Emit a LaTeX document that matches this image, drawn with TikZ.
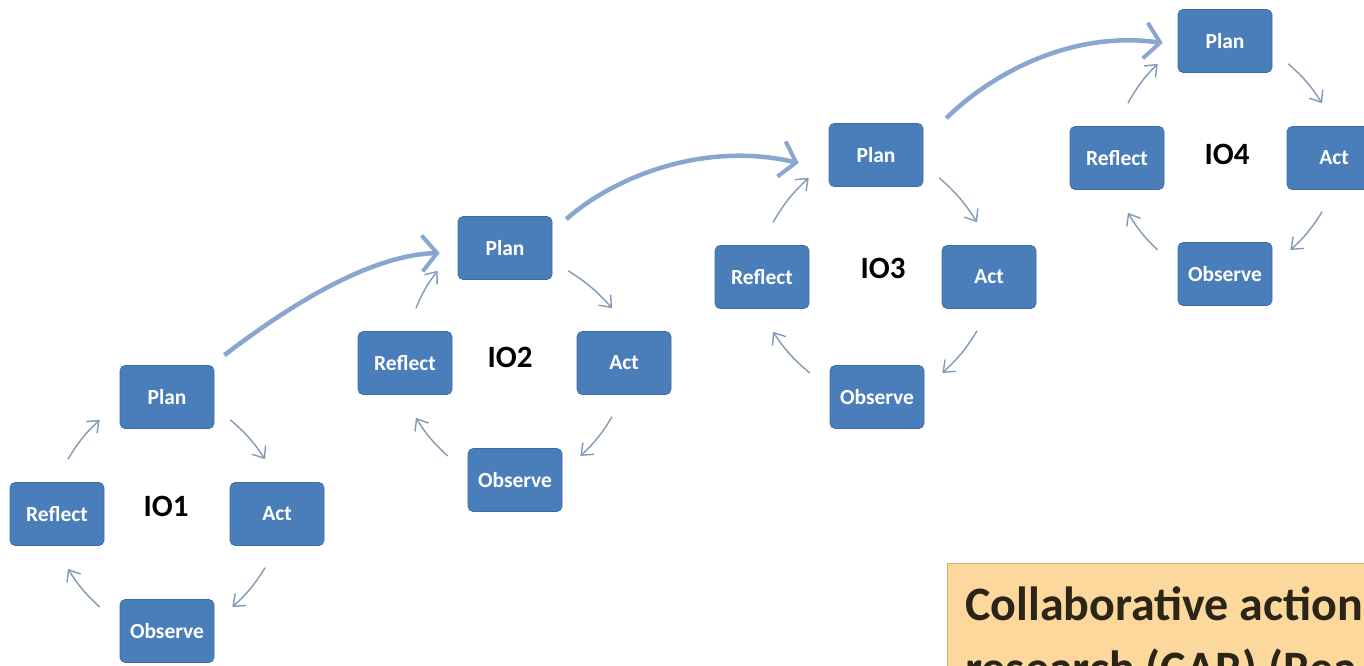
\documentclass[tikz,border=0pt]{standalone}
\usepackage{fontspec}
\setmainfont{Carlito}
\usetikzlibrary{arrows.meta,calc}
\definecolor{boxblue}{HTML}{4A7EBB}
\definecolor{smallarr}{HTML}{8299B8}
\definecolor{bigarr}{HTML}{89A6D0}
\definecolor{carfill}{HTML}{FCD89C}
\definecolor{carline}{HTML}{D9AE6E}
\definecolor{cartext}{HTML}{2B2518}
\begin{document}
\begin{tikzpicture}[x=1pt,y=-1pt,
  stagebox/.style={rectangle, rounded corners=5pt, fill=boxblue, draw=boxblue!85!black, line width=0.6pt,
    minimum width=94pt, minimum height=63pt, text=white, font=\fontsize{21.5}{24}\selectfont\bfseries, inner sep=0pt},
  iolabel/.style={font=\fontsize{31}{34}\selectfont\bfseries, text=black, inner sep=0pt},
  cyclearrow/.style={draw=smallarr, line width=1.4pt, -{Straight Barb[length=10pt,width=16pt,line width=1.4pt]}},
  bigarrow/.style={draw=bigarr, line width=4.5pt, -{Straight Barb[length=15pt,width=36pt,line width=4pt]}},
  cartxt/.style={anchor=base west, font=\fontsize{48}{52}\selectfont\bfseries, text=cartext, inner sep=0pt}
]
\useasboundingbox (0,0) rectangle (1364,665);
\fill[white] (0,0) rectangle (1364,665);
\clip (0,0) rectangle (1364,665);

% cycle 1
\node[stagebox] (p1) at (167,397) {Plan};
\node[stagebox] (r1) at (57,514) {Reflect};
\node[stagebox] (a1) at (277,514) {Act};
\node[stagebox] (o1) at (167,631) {Observe};
\node[iolabel] (io1) at (166,506) {IO1};
% cycle 2
\node[stagebox] (p2) at (505,248) {Plan};
\node[stagebox] (r2) at (405,363) {Reflect};
\node[stagebox] (a2) at (624,363) {Act};
\node[stagebox] (o2) at (515,480) {Observe};
\node[iolabel] (io2) at (510,357) {IO2};
% cycle 3
\node[stagebox] (p3) at (876,155) {Plan};
\node[stagebox] (r3) at (762,277) {Reflect};
\node[stagebox] (a3) at (989,277) {Act};
\node[stagebox] (o3) at (877,397) {Observe};
\node[iolabel] (io3) at (883,268) {IO3};
% cycle 4
\node[stagebox] (p4) at (1225,41) {Plan};
\node[stagebox] (r4) at (1117,158) {Reflect};
\node[stagebox] (a4) at (1334,158) {Act};
\node[stagebox] (o4) at (1225,274) {Observe};
\node[iolabel] (io4) at (1227,154) {IO4};

\foreach \i in {1,2,3,4} {
  \draw[cyclearrow] ($(p\i.south east)+(16,-9)$) to[bend left=8] ($(a\i.north)+(-12,-23)$);
  \draw[cyclearrow] ($(a\i.south)+(-12,22)$) to[bend left=8] ($(o\i.east)+(18,-24)$);
  \draw[cyclearrow] ($(o\i.west)+(-20,-24)$) to[bend left=8] ($(r\i.south)+(11,23)$);
  \draw[cyclearrow] ($(r\i.north)+(11,-23)$) to[bend left=8] ($(p\i.south west)+(-20,-9)$);
}

\draw[bigarrow] ($(p1.north east)+(10,-10)$) .. controls (290,305) and (370,255) .. ($(p2.west)+(-18,5)$);
\draw[bigarrow] ($(p2.north east)+(14,3)$) .. controls (610,180) and (700,140) .. ($(p3.west)+(-30,8)$);
\draw[bigarrow] ($(p3.north east)+(23,-5)$) .. controls (990,75) and (1070,30) .. ($(p4.west)+(-15,2)$);

\node[draw=carline, fill=carfill, line width=1pt, minimum width=450pt, minimum height=150pt,
  anchor=north west, inner sep=0pt] (carbox) at (947,563) {};
\node[cartxt] (car1) at (965,620) {Collaborative action};
\node[cartxt] (car2) at (965,684) {research (CAR) (Rea};
\end{tikzpicture}
\end{document}
